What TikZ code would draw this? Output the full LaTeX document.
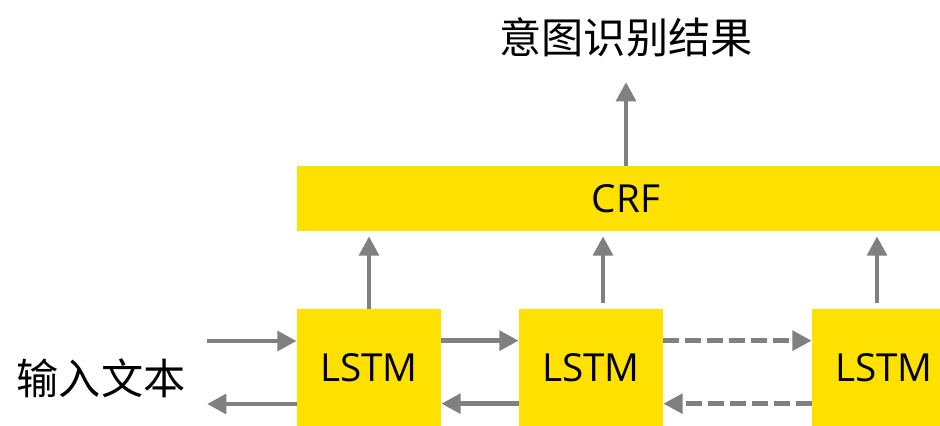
\documentclass[tikz,border=0pt]{standalone}
\usepackage{fontspec}
\setmainfont{Open Sans}
\newfontfamily\cjk{Noto Sans CJK SC}
\usetikzlibrary{arrows.meta,calc}
\definecolor{cellyellow}{RGB}{255,225,0}
\definecolor{flowgray}{RGB}{128,128,128}
\tikzset{
  cell/.style={fill=cellyellow, inner sep=0pt, font=\fontsize{22}{25}\selectfont},
  lstm/.style={cell, minimum width=2.88cm, minimum height=2.34cm},
  flow/.style={draw=flowgray, line width=2.8pt, -{Triangle[length=11pt,width=11pt]}},
  flowdash/.style={flow, dash pattern=on 9pt off 3.5pt},
  label/.style={font=\cjk\fontsize{24}{28}\selectfont, inner sep=0pt},
}
\begin{document}
\begin{tikzpicture}[x=0.02cm,y=-0.02cm]
    \useasboundingbox (0,0) rectangle (940,426);
    \clip (0,0) rectangle (940,426);
    % boxes
    \node[cell, minimum width=13.16cm, minimum height=1.3cm] (crf) at (626,198.5) {CRF};
    \node[lstm] (l1) at (369,367.5) {LSTM};
    \node[lstm] (l2) at (591,367.5) {LSTM};
    \node[lstm] (l3) at (884,367.5) {LSTM};
    % texts
    \node[label] (result) at (626,37) {意图识别结果};
    \node[label] (input) at (101,378) {输入文本};
    \coordinate (inL) at (207,341);
    \coordinate (outL) at (207,404);
    \coordinate (up2) at ($(l2.north)+(12,-6)$);
    \coordinate (up3) at ($(l3.north)+(-7,-6)$);
    % forward / backward
    \draw[flow] (inL) -- (inL -| l1.west);
    \draw[flow] (outL -| l1.west) -- (outL);
    \draw[flow] ($(l1.north east)+(0,32)$) -- ($(l2.north west)+(0,32)$);
    \draw[flow] ($(l2.north west)+(0,95)$) -- ($(l1.north east)+(0,95)$);
    \draw[flowdash] ($(l2.north east)+(0,32)$) -- ($(l3.north west)+(0,32)$);
    \draw[flowdash] ($(l3.north west)+(0,95)$) -- ($(l2.north east)+(0,95)$);
    % up to crf
    \draw[flow, shorten >=2.8pt] (l1.north) -- (l1.north |- crf.south);
    \draw[flow, shorten >=2.8pt] (up2) -- (up2 |- crf.south);
    \draw[flow, shorten >=2.8pt] (up3) -- (up3 |- crf.south);
    \draw[flow] (crf.north) -- ($(result.south)+(0,25)$);
\end{tikzpicture}
\end{document}
